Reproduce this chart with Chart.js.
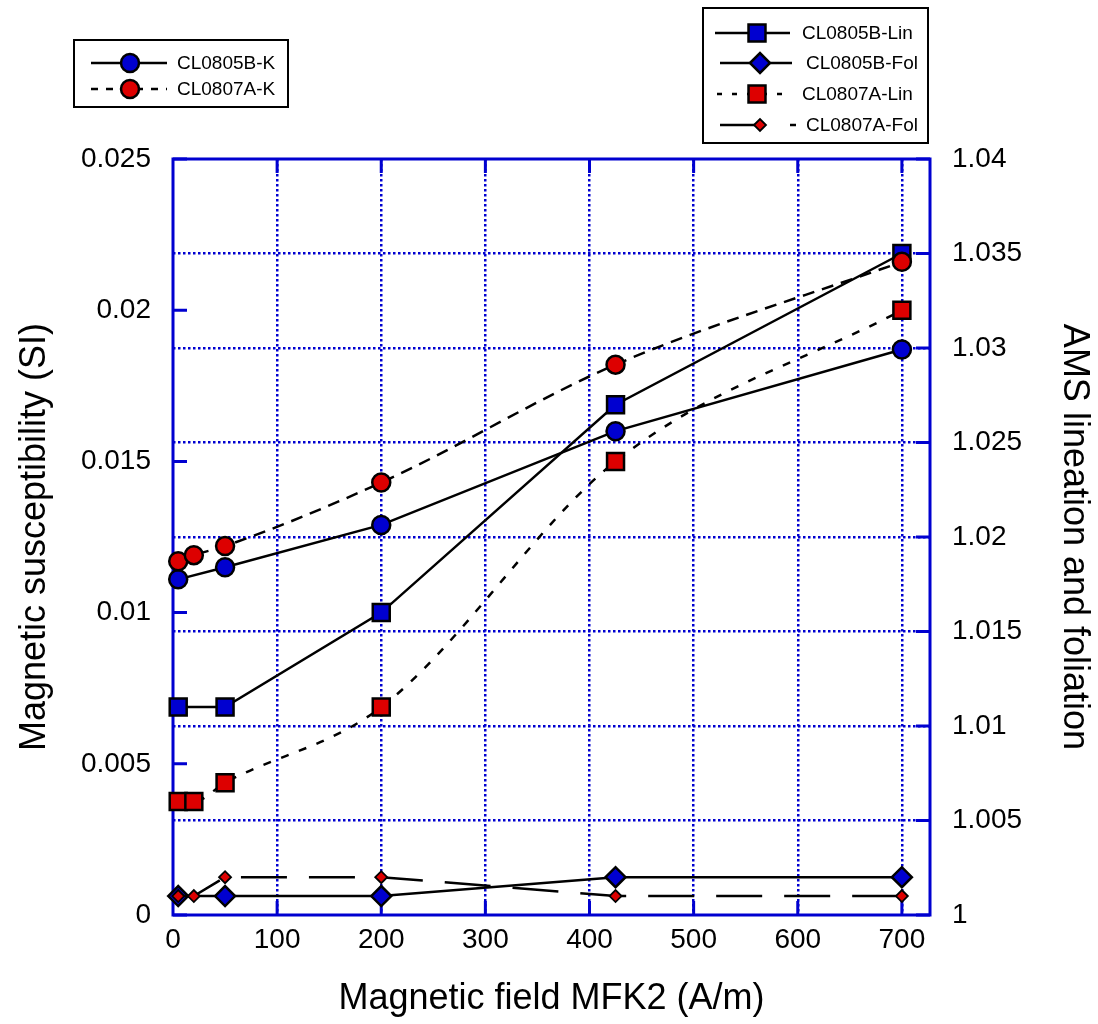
<!DOCTYPE html>
<html><head><meta charset="utf-8">
<script src="https://cdn.jsdelivr.net/npm/chart.js@4.4.1/dist/chart.umd.min.js"></script>
<style>html,body{margin:0;padding:0;background:#fff}canvas{display:block}</style>
</head><body>
<canvas id="c" width="1098" height="1024" style="width:1098px;height:1024px"></canvas>
<script>
// ---- data ----
const xTicks = [0, 100, 200, 300, 400, 500, 600, 700];
const kTicks = [0, 0.005, 0.01, 0.015, 0.02, 0.025];
const kTickLabels = ['0', '0.005', '0.01', '0.015', '0.02', '0.025'];
const amsTicks = [1, 1.005, 1.01, 1.015, 1.02, 1.025, 1.03, 1.035, 1.04];
const amsTickLabels = ['1', '1.005', '1.01', '1.015', '1.02', '1.025', '1.03', '1.035', '1.04'];

const field0805B = [5, 50, 200, 425, 700];
const field0807A = [5, 20, 50, 200, 425, 700];

const k0805B   = [0.0111, 0.0115, 0.0129, 0.0160, 0.0187];
const k0807A   = [0.0117, 0.0119, 0.0122, 0.0143, 0.0182, 0.0216];
const lin0805B = [1.011, 1.011, 1.016, 1.027, 1.035];
const fol0805B = [1.001, 1.001, 1.001, 1.002, 1.002];
const lin0807A = [1.006, 1.006, 1.007, 1.011, 1.024, 1.032];
const fol0807A = [1.001, 1.001, 1.002, 1.002, 1.001, 1.001];

const seriesLabels = ['CL0805B-K', 'CL0807A-K', 'CL0805B-Lin', 'CL0805B-Fol', 'CL0807A-Lin', 'CL0807A-Fol'];

// ---- styles ----
const BLUE = '#0000d0';
const RED = '#dd0000';
const FONT = "'Liberation Sans', Arial, Helvetica, sans-serif";

function pts(xs, ys) { return xs.map((x, i) => ({ x: x, y: ys[i] })); }

const datasets = [
  { label: seriesLabels[1], data: pts(field0807A, k0807A), yAxisID: 'y',
    borderColor: '#000', borderWidth: 2.5, borderDash: [12, 8], cubicInterpolationMode: 'monotone',
    pointStyle: 'circle', pointRadius: 9, pointBorderWidth: 2.5, pointBackgroundColor: RED, pointBorderColor: '#000', order: 1 },
  { label: seriesLabels[0], data: pts(field0805B, k0805B), yAxisID: 'y',
    borderColor: '#000', borderWidth: 2.5, tension: 0,
    pointStyle: 'circle', pointRadius: 9, pointBorderWidth: 2.5, pointBackgroundColor: BLUE, pointBorderColor: '#000', order: 2 },
  { label: seriesLabels[5], data: pts(field0807A, fol0807A), yAxisID: 'y2',
    borderColor: '#000', borderWidth: 2.5, borderDash: [46, 22], tension: 0,
    pointStyle: 'rectRot', pointRadius: 6, pointBorderWidth: 1.8, pointBackgroundColor: RED, pointBorderColor: '#000', order: 3 },
  { label: seriesLabels[3], data: pts(field0805B, fol0805B), yAxisID: 'y2',
    borderColor: '#000', borderWidth: 2.5, tension: 0,
    pointStyle: 'rectRot', pointRadius: 10, pointBorderWidth: 2.5, pointBackgroundColor: BLUE, pointBorderColor: '#000', order: 4 },
  { label: seriesLabels[4], data: pts(field0807A, lin0807A), yAxisID: 'y2',
    borderColor: '#000', borderWidth: 2.5, borderDash: [8, 11], cubicInterpolationMode: 'monotone',
    pointStyle: 'rect', pointRadius: 12, pointBorderWidth: 2.5, pointBackgroundColor: RED, pointBorderColor: '#000', order: 5 },
  { label: seriesLabels[2], data: pts(field0805B, lin0805B), yAxisID: 'y2',
    borderColor: '#000', borderWidth: 2.5, tension: 0,
    pointStyle: 'rect', pointRadius: 12, pointBorderWidth: 2.5, pointBackgroundColor: BLUE, pointBorderColor: '#000', order: 6 }
];
datasets.forEach(d => { d.fill = false; d.clip = false; d.showLine = true; d.pointHoverRadius = d.pointRadius; });

// ---- frame, inward ticks and legends ----
function shape(ctx, style, x, y, r, fill, bw) {
  ctx.save();
  ctx.setLineDash([]);
  ctx.beginPath();
  if (style === 'circle') ctx.arc(x, y, r, 0, Math.PI * 2);
  else if (style === 'rect') { const s = Math.SQRT1_2 * r; ctx.rect(x - s, y - s, 2 * s, 2 * s); }
  else { ctx.moveTo(x - r, y); ctx.lineTo(x, y - r); ctx.lineTo(x + r, y); ctx.lineTo(x, y + r); ctx.closePath(); }
  ctx.fillStyle = fill; ctx.fill();
  ctx.lineWidth = bw; ctx.strokeStyle = '#000'; ctx.stroke();
  ctx.restore();
}
function seg(ctx, x1, x2, y, dash) {
  ctx.save();
  ctx.beginPath(); ctx.setLineDash(dash || []);
  ctx.moveTo(x1, y); ctx.lineTo(x2, y);
  ctx.strokeStyle = '#000'; ctx.lineWidth = 2.5; ctx.stroke();
  ctx.restore();
}

const framePlugin = {
  id: 'frame',
  beforeDatasetsDraw(chart) {
    const { ctx, chartArea: a, scales } = chart;
    ctx.save();
    ctx.strokeStyle = BLUE;
    ctx.lineWidth = 3;
    ctx.strokeRect(a.left, a.top, a.right - a.left, a.bottom - a.top);
    ctx.lineWidth = 3;
    ctx.beginPath();
    const L = 14;
    xTicks.forEach(v => {
      if (v === 0) return;
      const px = scales.x.getPixelForValue(v);
      ctx.moveTo(px, a.bottom); ctx.lineTo(px, a.bottom - L);
      ctx.moveTo(px, a.top); ctx.lineTo(px, a.top + L);
    });
    kTicks.forEach(v => {
      const py = scales.y.getPixelForValue(v);
      ctx.moveTo(a.left, py); ctx.lineTo(a.left + L, py);
    });
    amsTicks.forEach(v => {
      const py = scales.y2.getPixelForValue(v);
      ctx.moveTo(a.right, py); ctx.lineTo(a.right - L, py);
    });
    ctx.stroke();
    ctx.restore();
  },
  afterDraw(chart) {
    const ctx = chart.ctx;
    ctx.save();
    // legend 1
    ctx.fillStyle = '#fff'; ctx.fillRect(74, 40, 214, 67);
    ctx.strokeStyle = '#000'; ctx.lineWidth = 2; ctx.strokeRect(74, 40, 214, 67);
    // legend 2
    ctx.fillStyle = '#fff'; ctx.fillRect(703, 8, 225, 135);
    ctx.strokeRect(703, 8, 225, 135);

    ctx.font = '19px ' + FONT;
    ctx.fillStyle = '#000';
    ctx.textBaseline = 'middle';
    ctx.textAlign = 'left';

    // legend 1 rows
    seg(ctx, 91, 167, 63); shape(ctx, 'circle', 130, 63, 9, BLUE, 2.5);
    ctx.fillText(seriesLabels[0], 177, 64);
    seg(ctx, 91, 167, 89, [7, 8]); shape(ctx, 'circle', 130, 89, 9, RED, 2.5);
    ctx.fillText(seriesLabels[1], 177, 90);

    // legend 2 rows
    seg(ctx, 715, 790, 33); shape(ctx, 'rect', 757, 33, 12, BLUE, 2.5);
    ctx.fillText(seriesLabels[2], 802, 34);
    seg(ctx, 720, 792, 63); shape(ctx, 'rectRot', 760, 63, 10, BLUE, 2.5);
    ctx.fillText(seriesLabels[3], 806, 64);
    seg(ctx, 717, 792, 94, [5, 10]); shape(ctx, 'rect', 757, 94, 12, RED, 2.5);
    ctx.fillText(seriesLabels[4], 802, 95);
    seg(ctx, 720, 757, 125); seg(ctx, 790, 796, 125); shape(ctx, 'rectRot', 760, 125, 6, RED, 1.8);
    ctx.fillText(seriesLabels[5], 806, 126);
    ctx.restore();
  }
};

const gridColor = (hide) => (c) => (c.tick && hide.includes(c.tick.value)) ? 'rgba(0,0,0,0)' : BLUE;

new Chart(document.getElementById('c'), {
  type: 'line',
  data: { datasets: datasets },
  options: {
    responsive: false,
    animation: false,
    devicePixelRatio: 1,
    layout: { padding: { top: 159, left: 0, right: 0, bottom: 0 } },
    plugins: { legend: { display: false }, tooltip: { enabled: false } },
    scales: {
      x: {
        type: 'linear', position: 'bottom', min: 0, max: 727,
        afterBuildTicks: s => { s.ticks = xTicks.map(v => ({ value: v })); },
        afterFit: s => { s.height = 109; },
        grid: { display: true, drawTicks: false, color: gridColor([0]), lineWidth: 2.5, borderDash: [2.5, 2.5] },
        border: { display: false, dash: [2.5, 2.5] },
        ticks: { font: { family: FONT, size: 28 }, color: '#000', padding: 8, maxRotation: 0, callback: v => String(v) },
        title: { display: true, text: 'Magnetic field MFK2 (A/m)', color: '#000', font: { family: FONT, size: 36 }, padding: { top: 0, bottom: 3 } }
      },
      y: {
        type: 'linear', position: 'left', min: 0, max: 0.025,
        afterBuildTicks: s => { s.ticks = kTicks.map(v => ({ value: v })); },
        afterFit: s => { s.width = 173; },
        grid: { display: false, drawTicks: false },
        border: { display: false },
        ticks: { font: { family: FONT, size: 28 }, color: '#000', padding: 22, callback: (v, i) => kTickLabels[i] },
        title: { display: true, text: 'Magnetic susceptibility (SI)', color: '#000', font: { family: FONT, size: 36 }, padding: { top: 13, bottom: 0 } }
      },
      y2: {
        type: 'linear', position: 'right', min: 1, max: 1.04,
        afterBuildTicks: s => { s.ticks = amsTicks.map(v => ({ value: v })); },
        afterFit: s => { s.width = 168; },
        grid: { display: true, drawTicks: false, color: gridColor([1, 1.04]), lineWidth: 2.5, borderDash: [2.5, 2.5] },
        border: { display: false, dash: [2.5, 2.5] },
        ticks: { font: { family: FONT, size: 28 }, color: '#000', padding: 22, callback: (v, i) => amsTickLabels[i] },
        title: { display: true, text: 'AMS lineation and foliation', color: '#000', font: { family: FONT, size: 36 }, padding: { top: 2, bottom: 0 } }
      }
    }
  },
  plugins: [framePlugin]
});
</script>
</body></html>
